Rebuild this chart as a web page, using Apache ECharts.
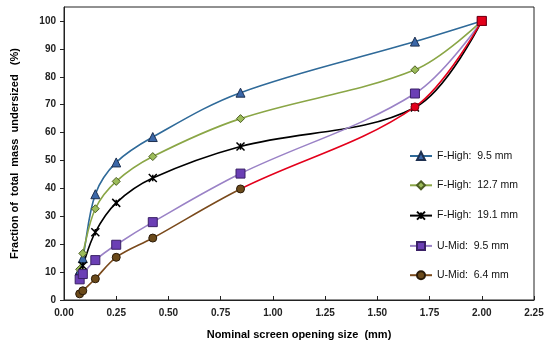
<!DOCTYPE html>
<html><head><meta charset="utf-8">
<script src="https://cdn.jsdelivr.net/npm/echarts@6/dist/echarts.min.js"></script>
<style>html,body{margin:0;padding:0;background:#fff}#c{width:550px;height:357px}</style>
</head><body><div id="c"></div>
<script>
const seriesNames = ['F-High:  9.5 mm','F-High:  12.7 mm','F-High:  19.1 mm','U-Mid:  9.5 mm','U-Mid:  6.4 mm'];
const xFHigh95 = [0.075,0.09,0.15,0.25,0.425,0.845,1.68,2.0];
const yFHigh95 = [10.5,15,37.9,49.3,58.4,74.3,92.6,100];
const xFHigh127 = [0.075,0.09,0.15,0.25,0.425,0.845,1.68,2.0];
const yFHigh127 = [11,16.7,32.7,42.5,51.4,65,82.5,100];
const xFHigh191 = [0.075,0.09,0.15,0.25,0.425,0.845,1.68,2.0];
const yFHigh191 = [8,12.3,24.3,34.8,43.7,55,69,100];
const xUMid95 = [0.075,0.09,0.15,0.25,0.425,0.845,1.68,2.0];
const yUMid95 = [7.4,9.3,14.3,19.8,27.9,45.3,74,100];
const xUMid64 = [0.075,0.09,0.15,0.25,0.425,0.845,1.68,2.0];
const yUMid64 = [2.2,3.3,7.6,15.3,22.2,39.8,69.2,100];
const xTicks = [0,0.25,0.5,0.75,1.0,1.25,1.5,1.75,2.0,2.25];
const yTicks = [0,10,20,30,40,50,60,70,80,90,100];
const redFrom = 0.845;

const pairs = (xs, ys) => xs.map((x, i) => [x, ys[i]]);
const font = 'Liberation Sans';
const star = 'path://M0,0L10,10M10,0L0,10M5,1L5,9';
const BROWN = '#7a4a1c', RED = '#e3001b';

const chart = echarts.init(document.getElementById('c'));
const mk = (name, data, lineColor, sym, size, fill, border, extra) => Object.assign({
  name, type: 'line', data, smooth: 0.35, symbol: sym, symbolSize: size,
  lineStyle: { color: lineColor, width: 1.6 },
  itemStyle: { color: fill, borderColor: border, borderWidth: 1 },
  z: 3
}, extra || {});

const umid64Data = pairs(xUMid64, yUMid64).map((p, i, a) => {
  if (p[0] <= redFrom) return p;
  const it = { value: p, itemStyle: { color: RED, borderColor: '#7a0010' } };
  if (i === a.length - 1) { it.symbol = 'rect'; it.symbolSize = 9; }
  return it;
});

chart.setOption({
  animation: false,
  grid: { left: 64, right: 16, top: 7, bottom: 57, show: true, borderColor: '#222', borderWidth: 1 },
  xAxis: {
    type: 'value', min: 0, max: 2.25, interval: 0.25,
    name: 'Nominal screen opening size  (mm)', nameLocation: 'middle', nameGap: 29,
    nameTextStyle: { fontFamily: font, fontWeight: 'bold', fontSize: 11, color: '#000' },
    axisLine: { show: true, lineStyle: { color: '#222' } },
    axisTick: { show: true, inside: true, length: 4, lineStyle: { color: '#222' } },
    axisLabel: { fontFamily: font, fontWeight: 'bold', fontSize: 10, color: '#222', margin: 8,
      formatter: v => xTicks.some(t => Math.abs(t - v) < 1e-9) ? v.toFixed(2) : '' },
    splitLine: { show: false }
  },
  yAxis: {
    type: 'value', min: 0, max: 105, interval: 10,
    name: 'Fraction of  total  mass  undersized   (%)', nameLocation: 'middle', nameGap: 44,
    nameTextStyle: { fontFamily: font, fontWeight: 'bold', fontSize: 11, color: '#000' },
    axisLine: { show: true, lineStyle: { color: '#222' } },
    axisTick: { show: true, length: 4, lineStyle: { color: '#222' } },
    axisLabel: { fontFamily: font, fontWeight: 'bold', fontSize: 10, color: '#222', margin: 8, showMaxLabel: false,
      formatter: v => yTicks.indexOf(v) >= 0 ? String(v) : '' },
    splitLine: { show: false }
  },
  legend: {
    orient: 'vertical', left: 404, top: 145.5, itemGap: 18.3, itemWidth: 22, itemHeight: 10,
    textStyle: { fontFamily: font, fontSize: 10.5, color: '#111' },
    data: seriesNames
  },
  series: [
    mk(seriesNames[0], pairs(xFHigh95, yFHigh95), '#2f6a99', 'triangle', 9, '#3b67a8', '#1d2f4f'),
    mk(seriesNames[1], pairs(xFHigh127, yFHigh127), '#8aa646', 'diamond', 8, '#9cbc5a', '#4d5e24'),
    mk(seriesNames[2], pairs(xFHigh191, yFHigh191), '#000000', star, 8, '#000', '#000', { itemStyle: { color: 'none', borderColor: '#000', borderWidth: 1.5 } }),
    mk(seriesNames[3], pairs(xUMid95, yUMid95), '#9a82c6', 'rect', 9, '#6b3fb5', '#3a2066'),
    mk(seriesNames[4], umid64Data, BROWN, 'circle', 8, '#6b4a1a', '#2a1a08', { z: 4 })
  ]
});

const px = chart.convertToPixel({ gridIndex: 0 }, [redFrom, 0])[0];
const W = chart.getWidth();
const f = px / W;
chart.setOption({
  series: [{}, {}, {}, {}, {
    lineStyle: { color: new echarts.graphic.LinearGradient(0, 0, W, 0, [
      { offset: 0, color: BROWN }, { offset: f, color: BROWN },
      { offset: f, color: RED }, { offset: 1, color: RED }
    ], true) }
  }]
});
</script></body></html>
